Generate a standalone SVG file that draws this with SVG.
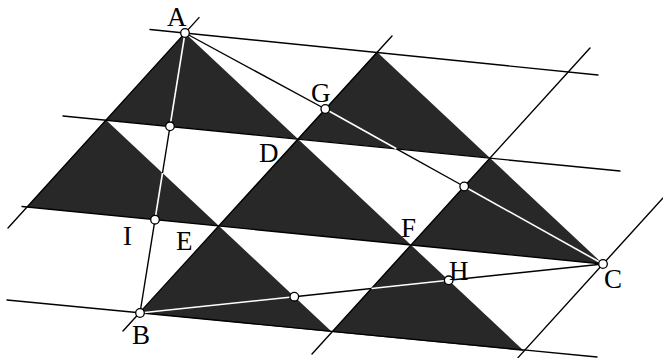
<svg xmlns="http://www.w3.org/2000/svg" width="663" height="358" viewBox="0 0 663 358">
<style>
.tri{fill:#282828}
.ln{stroke:#000;stroke-width:1.4;fill:none;stroke-linecap:round}
.wl{stroke:#fff;stroke-width:1.6;fill:none}
.bl{stroke:#000;stroke-width:1.4;fill:none}
.pt{fill:#fff;stroke:#000;stroke-width:1.3}
.lb{font-family:"Liberation Serif","Times New Roman",serif;font-size:27px;fill:#000}
</style>
<rect width="663" height="358" fill="#fff"/>
<g id="tiles">
<polygon class="tri" points="185,33 106,120 298,139"/>
<polygon class="tri" points="377,52 298,139 490,158"/>
<polygon class="tri" points="106,120 27,207 219,226"/>
<polygon class="tri" points="298,139 219,226 411,245"/>
<polygon class="tri" points="490,158 411,245 603,264"/>
<polygon class="tri" points="219,226 140,313 332,332"/>
<polygon class="tri" points="411,245 332,332 524,351"/>
</g>
<g id="grid">
<line class="ln" x1="150" y1="29.5" x2="598" y2="75"/>
<line class="ln" x1="63" y1="116" x2="620" y2="171"/>
<line class="ln" x1="22" y1="206.5" x2="603" y2="264"/>
<line class="ln" x1="7" y1="300" x2="597" y2="357"/>
<line class="ln" x1="199" y1="17.6" x2="8" y2="228"/>
<line class="ln" x1="392" y1="36" x2="123" y2="331"/>
<line class="ln" x1="590" y1="48" x2="312" y2="354"/>
<line class="ln" x1="663" y1="198" x2="518" y2="357.6"/>
</g>
<g id="connectors">
<line class="wl" x1="185" y1="33" x2="170" y2="126.3"/>
<line class="bl" x1="170" y1="126.3" x2="162.5" y2="173"/>
<line class="wl" x1="162.5" y1="173" x2="155" y2="219.7"/>
<line class="bl" x1="155" y1="219.7" x2="140" y2="313"/>
<line class="wl" x1="140" y1="313" x2="294.3" y2="296.7"/>
<line class="bl" x1="294.3" y1="296.7" x2="371.5" y2="288.5"/>
<line class="wl" x1="371.5" y1="288.5" x2="448.7" y2="280.3"/>
<line class="bl" x1="448.7" y1="280.3" x2="603" y2="264"/>
<line class="bl" x1="185" y1="33" x2="325.3" y2="109"/>
<line class="wl" x1="325.3" y1="109" x2="396.5" y2="148.8"/>
<line class="bl" x1="396.5" y1="148.8" x2="464.2" y2="186.5"/>
<line class="wl" x1="464.2" y1="186.5" x2="603" y2="264"/>
</g>
<g id="A"><circle class="pt" cx="185" cy="33" r="4.3"/><text class="lb" x="167" y="26">A</text></g>
<g id="B"><circle class="pt" cx="140" cy="313" r="4.3"/><text class="lb" x="132" y="344">B</text></g>
<g id="C"><circle class="pt" cx="603" cy="264" r="4.3"/><text class="lb" x="604" y="288">C</text></g>
<g id="D"><text class="lb" x="259" y="162">D</text></g>
<g id="E"><text class="lb" x="176" y="250">E</text></g>
<g id="F"><text class="lb" x="401" y="237">F</text></g>
<g id="G"><circle class="pt" cx="325.3" cy="109" r="4.3"/><text class="lb" x="311" y="102">G</text></g>
<g id="H"><circle class="pt" cx="448.7" cy="280.3" r="4.3"/><text class="lb" x="449" y="280">H</text></g>
<g id="I"><circle class="pt" cx="155" cy="219.7" r="4.3"/><text class="lb" x="123" y="245">I</text></g>
<g id="M1"><circle class="pt" cx="170" cy="126.3" r="4.3"/></g>
<g id="M2"><circle class="pt" cx="294.3" cy="296.7" r="4.3"/></g>
<g id="M3"><circle class="pt" cx="464.2" cy="186.5" r="4.3"/></g>
</svg>
